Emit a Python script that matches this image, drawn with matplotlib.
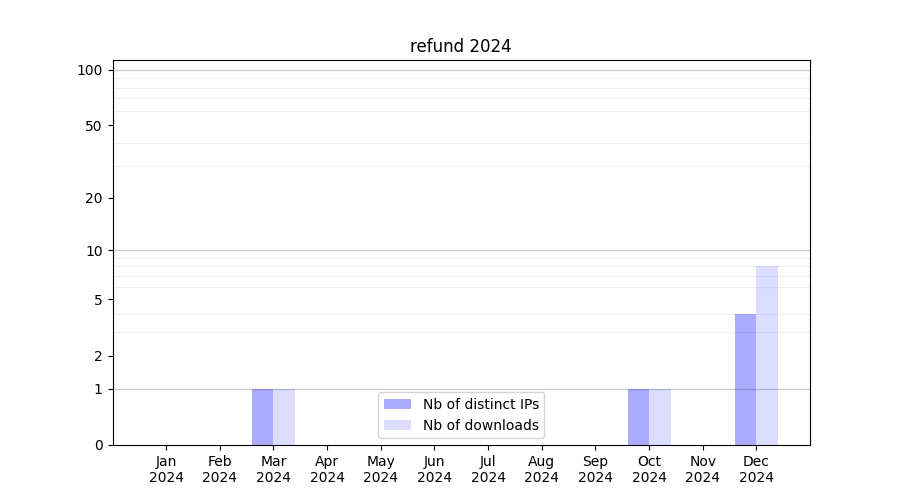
import numpy as np
import matplotlib
matplotlib.use("Agg")
import matplotlib.pyplot as plt
from matplotlib.ticker import FixedLocator, NullFormatter

months = ["Jan\n2024", "Feb\n2024", "Mar\n2024", "Apr\n2024", "May\n2024", "Jun\n2024",
          "Jul\n2024", "Aug\n2024", "Sep\n2024", "Oct\n2024", "Nov\n2024", "Dec\n2024"]
distinct_ips = [0, 0, 1, 0, 0, 0, 0, 0, 0, 1, 0, 4]
downloads = [0, 0, 1, 0, 0, 0, 0, 0, 0, 1, 0, 8]
ytick_values = [0, 1, 2, 5, 10, 20, 50, 100]

fig, ax = plt.subplots(figsize=(9, 5), dpi=100)

def fwd(y):
    return np.log10(1 + np.clip(y, 0, None))

def inv(y):
    return 10 ** y - 1

ax.set_yscale('function', functions=(fwd, inv))

x = np.arange(len(months))
w = 0.4
ax.bar(x - w / 2, distinct_ips, width=w, color='blue', alpha=0.33, label='Nb of distinct IPs', zorder=2)
ax.bar(x + w / 2, downloads, width=w, color='blue', alpha=0.135, label='Nb of downloads', zorder=2)

ax.set_xticks(x)
ax.set_xticklabels(months)
ax.set_xlim(-1, 12)
ax.set_ylim(0, 113)

ax.yaxis.set_major_locator(FixedLocator(ytick_values))
ax.set_yticklabels([str(v) for v in ytick_values])
minor = list(range(2, 10)) + list(range(20, 100, 10))
ax.yaxis.set_minor_locator(FixedLocator(minor))
ax.yaxis.set_minor_formatter(NullFormatter())
ax.tick_params(axis='y', which='minor', length=0)

for v in [1, 10, 100]:
    ax.axhline(v, color='#cccccc', linewidth=1, zorder=1)
ax.grid(axis='y', which='minor', color='#eeeeee', linewidth=0.8, zorder=0)
ax.set_axisbelow(True)

ax.set_title('refund 2024')
ax.legend(loc='lower center')

fig.savefig('out.png', dpi=100)
